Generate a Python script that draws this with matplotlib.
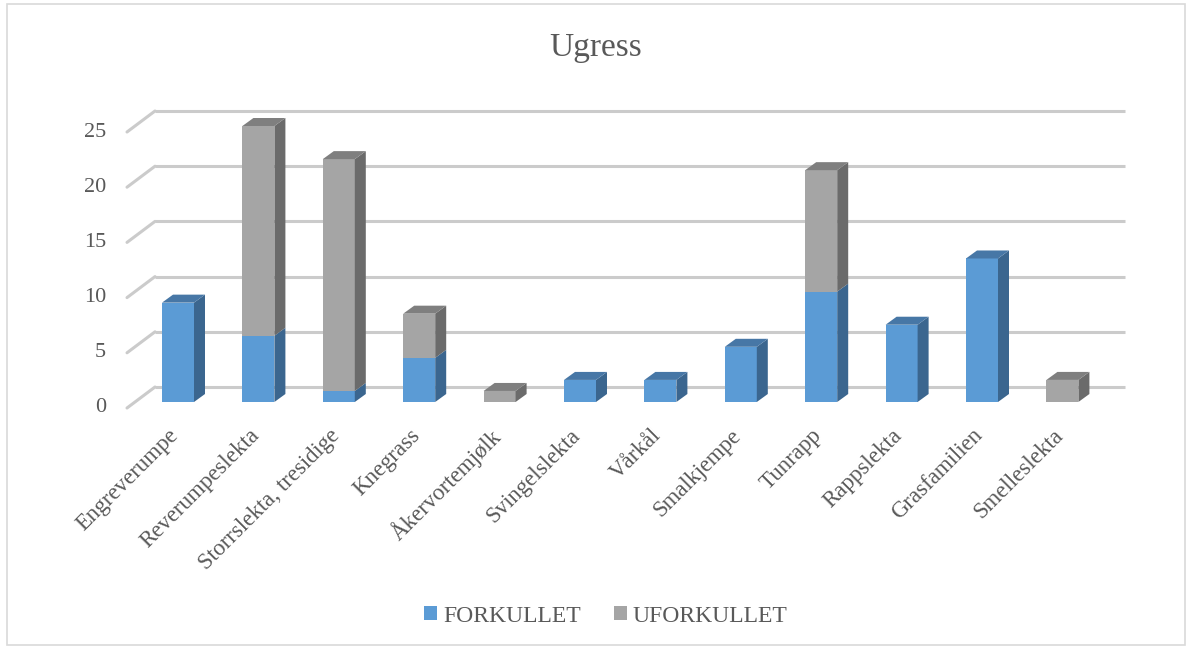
import matplotlib
matplotlib.use('Agg')
import matplotlib.pyplot as plt
from matplotlib.patches import Polygon, Rectangle, Patch

# ---- data ----
categories = ['Engreverumpe', 'Reverumpeslekta', 'Storrslekta, tresidige', 'Knegrass',
              'Åkervortemjølk', 'Svingelslekta', 'Vårkål', 'Smalkjempe', 'Tunrapp',
              'Rappslekta', 'Grasfamilien', 'Smelleslekta']
forkullet = [9, 6, 1, 4, 0, 2, 2, 5, 10, 7, 13, 0]
uforkullet = [0, 19, 21, 4, 1, 0, 0, 0, 11, 0, 0, 2]
y_ticks = [0, 5, 10, 15, 20, 25]
series_names = ['FORKULLET', 'UFORKULLET']
title = 'Ugress'

# ---- style ----
plt.rcParams['font.family'] = ['Liberation Serif', 'DejaVu Serif']
TXT = '#595959'
colors = {
    'FORKULLET': ('#5B9BD5', '#3B668F', '#4777A6'),   # front, side, top
    'UFORKULLET': ('#A5A5A5', '#6B6B6B', '#7F7F7F'),
}

W, H = 1192, 648
X0, XSTEP = 178, 80.4      # pixel position of first category, pixels per category
Y0, YSTEP = 402, 11.04     # pixel row of value 0 (front bar plane), pixels per unit

fig = plt.figure(figsize=(W / 100, H / 100), dpi=100)
ax = fig.add_axes([0, 0, 1, 1])
ax.set_xlim((0 - X0) / XSTEP, (W - X0) / XSTEP)
ax.set_ylim((Y0 - H) / YSTEP, Y0 / YSTEP)
ax.axis('off')


def dxp(p):
    return p / XSTEP


def dyp(p):
    return p / YSTEP


def yimg(row):
    return (Y0 - row) / YSTEP


bar_w = dxp(32)
depth_x, depth_y = dxp(11), dyp(8)
back_x, back_y = dxp(20), dyp(15)
front_x, front_y = dxp(-8), dyp(-6)
wall_left = dxp(135 - X0)
wall_right = dxp(1105 - X0)

# chart border
fig.add_artist(Rectangle((6.5 / W, 3.5 / H), (1185 - 6.5) / W, (644 - 3.5) / H,
                         transform=fig.transFigure, fill=False, edgecolor='#d9d9d9', lw=1.2))

# gridlines (back wall + left wall)
for v in y_ticks:
    ax.plot([wall_left + back_x, wall_right + back_x], [v + back_y] * 2,
            color='#cbcbcb', lw=2.2, solid_capstyle='butt', zorder=1)
    ax.plot([wall_left + front_x, wall_left + back_x], [v + front_y, v + back_y],
            color='#cbcbcb', lw=2.2, solid_capstyle='round', zorder=1)
    ax.text(wall_left + front_x - dxp(21), v + front_y, str(v), ha='right', va='center',
            fontsize=16, color=TXT)

# bars
n = len(categories)
xs = list(range(n))
bottoms = [0.0] * n
series = [forkullet, uforkullet]
totals = [a + b for a, b in zip(forkullet, uforkullet)]
for name, vals in zip(series_names, series):
    front, side, top = colors[name]
    ax.bar(xs, vals, bottom=bottoms, width=bar_w, color=front, edgecolor='none', zorder=3)
    for i, v in enumerate(vals):
        if v <= 0:
            continue
        b = bottoms[i]
        xr = xs[i] + bar_w / 2
        xl = xs[i] - bar_w / 2
        ax.add_patch(Polygon([(xr, b), (xr + depth_x, b + depth_y),
                              (xr + depth_x, b + v + depth_y), (xr, b + v)],
                             closed=True, facecolor=side, edgecolor='none', zorder=3))
        if abs(b + v - totals[i]) < 1e-9:
            t = b + v
            ax.add_patch(Polygon([(xl, t), (xr, t), (xr + depth_x, t + depth_y),
                                  (xl + depth_x, t + depth_y)],
                                 closed=True, facecolor=top, edgecolor='none', zorder=3))
    bottoms = [b + v for b, v in zip(bottoms, vals)]

# category labels
for i, c in enumerate(categories):
    ax.text(xs[i] - dxp(10), yimg(425), c, rotation=45, rotation_mode='anchor',
            ha='right', va='top', fontsize=16.5, color=TXT)

# title
fig.text(0.5, 1 - 48 / H, title, ha='center', va='center', fontsize=24, color=TXT)

# legend
handles = [Patch(facecolor=colors[s][0], edgecolor='none', label=s) for s in series_names]
fig.legend(handles=handles, loc='center', bbox_to_anchor=(606 / W, 1 - 616 / H), ncol=2,
           frameon=False, fontsize=17, labelcolor=TXT, handlelength=0.55, handleheight=0.55,
           handletextpad=0.25, columnspacing=1.4)

fig.savefig('out.png', dpi=100)
